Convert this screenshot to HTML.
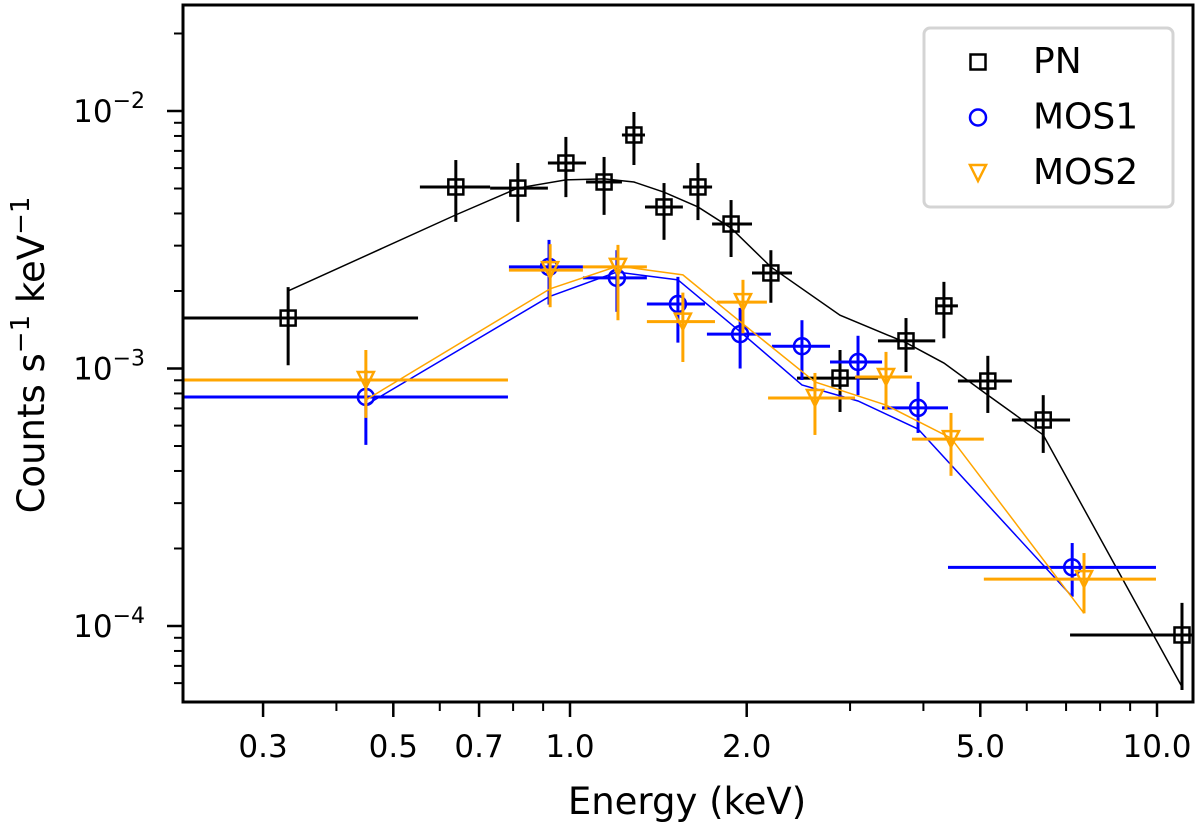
<!DOCTYPE html>
<html><head><meta charset="utf-8"><style>
body{margin:0;background:#fff}
svg{display:block;font-family:"DejaVu Sans","Liberation Sans",sans-serif}
</style></head><body>
<svg id="chart" width="1200" height="833" viewBox="0 0 1200 833" xmlns="http://www.w3.org/2000/svg">
<g id="plot"></g>
</svg>
<script>
// PN data
const pnE=[0.331,0.639,0.815,0.984,1.143,1.285,1.446,1.652,1.881,2.199,2.884,3.736,4.335,5.15,6.40,11.03];
const pnElo=[0.219,0.555,0.731,0.917,1.065,1.226,1.342,1.557,1.746,2.042,2.436,3.347,4.19,4.58,5.66,7.11];
const pnEhi=[0.551,0.731,0.917,1.065,1.226,1.342,1.557,1.746,2.042,2.389,3.347,4.19,4.58,5.66,7.11,11.6];
const pnC=[1.57e-3,5.07e-3,5.02e-3,6.28e-3,5.30e-3,8.07e-3,4.24e-3,5.07e-3,3.64e-3,2.35e-3,9.18e-4,1.28e-3,1.75e-3,8.94e-4,6.31e-4,9.23e-5];
const pnClo=[1.03e-3,3.71e-3,3.71e-3,4.63e-3,3.95e-3,6.17e-3,3.16e-3,3.77e-3,2.71e-3,1.80e-3,6.78e-4,9.69e-4,1.31e-3,6.72e-4,4.70e-4,5.64e-5];
const pnChi=[2.07e-3,6.45e-3,6.28e-3,7.93e-3,6.63e-3,9.91e-3,5.25e-3,6.28e-3,4.51e-3,2.88e-3,1.18e-3,1.57e-3,2.17e-3,1.12e-3,7.88e-4,1.23e-4];
const pnModel=[2.00e-3,3.95e-3,5.02e-3,5.40e-3,5.45e-3,5.30e-3,4.84e-3,4.24e-3,3.51e-3,2.48e-3,1.61e-3,1.26e-3,1.05e-3,7.88e-4,5.52e-4,5.80e-5];
const pnModelE=[0.331,0.639,0.815,0.984,1.143,1.285,1.446,1.652,1.881,2.199,2.884,3.736,4.335,5.15,6.40,11.03];
// MOS1 data
const m1E=[0.449,0.921,1.202,1.527,1.949,2.484,3.095,3.917,7.17];
const m1Elo=[0.219,0.787,1.052,1.352,1.711,2.208,2.773,3.401,4.405];
const m1Ehi=[0.784,1.052,1.352,1.698,2.199,2.773,3.401,4.405,9.96];
const m1C=[7.75e-4,2.48e-3,2.25e-3,1.78e-3,1.36e-3,1.22e-3,1.06e-3,7.03e-4,1.69e-4];
const m1Clo=[5.05e-4,1.77e-3,1.66e-3,1.26e-3,1.00e-3,9.02e-4,7.88e-4,5.62e-4,1.30e-4];
const m1Chi=[9.87e-4,3.16e-3,2.88e-3,2.27e-3,1.72e-3,1.54e-3,1.34e-3,8.87e-4,2.10e-4];
const m1Model=[7.21e-4,1.90e-3,2.37e-3,2.21e-3,1.39e-3,8.63e-4,7.48e-4,5.82e-4,1.30e-4];
// MOS2 data
const m2E=[0.449,0.925,1.207,1.557,1.971,2.614,3.454,4.457,7.51];
const m2Elo=[0.219,0.787,1.052,1.352,1.780,2.175,3.059,3.824,5.07];
const m2Ehi=[0.784,1.052,1.352,1.766,2.165,3.059,3.824,5.07,9.96];
const m2C=[9.02e-4,2.41e-3,2.48e-3,1.52e-3,1.81e-3,7.68e-4,9.27e-4,5.32e-4,1.52e-4];
const m2Clo=[6.43e-4,1.73e-3,1.54e-3,1.06e-3,1.37e-3,5.52e-4,6.90e-4,3.83e-4,1.12e-4];
const m2Chi=[1.18e-3,3.04e-3,3.02e-3,1.97e-3,2.21e-3,9.61e-4,1.16e-3,6.72e-4,1.92e-4];
const m2Model=[7.55e-4,2.04e-3,2.50e-3,2.31e-3,1.49e-3,8.87e-4,7.21e-4,5.37e-4,1.12e-4];
// ticks
const xTickVals=[0.3,0.5,0.7,1.0,2.0,5.0,10.0];
const xTickLabels=["0.3","0.5","0.7","1.0","2.0","5.0","10.0"];
const xMinorVals=[0.4,0.6,0.8,0.9,3,4,6,7,8,9];
const yTickVals=[1e-2,1e-3,1e-4];
const yTickExps=["−2","−3","−4"];

const X0=183,X1=1193,Y0=5,Y1=702;
function sx(e){return 570+587*Math.log10(e);}
function sy(c){return 111-257.5*(Math.log10(c)+2);}
const NS="http://www.w3.org/2000/svg";
const svg=document.getElementById('chart');
const g=document.getElementById('plot');
function mk(tag,attrs,parent){const el=document.createElementNS(NS,tag);for(const k in attrs)el.setAttribute(k,attrs[k]);(parent||svg).appendChild(el);return el;}

const defs=mk('defs',{});
const cp=mk('clipPath',{id:'clip'},defs);
mk('rect',{x:X0,y:Y0,width:X1-X0,height:Y1-Y0},cp);
g.setAttribute('clip-path','url(#clip)');

function drawSeries(name,color,E,Elo,Ehi,C,Clo,Chi,ME,M,marker){
  const line=mk('polyline',{points:ME.map((e,i)=>sx(e)+','+sy(M[i])).join(' '),fill:'none',stroke:color,'stroke-width':1.5},g);
  
  
  E.forEach((e,i)=>{
    const grp=mk('g',{},g);
    
    
    const x=sx(e),y=sy(C[i]);
    mk('line',{x1:sx(Elo[i]),x2:sx(Ehi[i]),y1:y,y2:y,stroke:color,'stroke-width':3},grp);
    mk('line',{x1:x,x2:x,y1:sy(Chi[i]),y2:sy(Clo[i]),stroke:color,'stroke-width':3},grp);
    drawMarker(marker,x,y,color,grp);
  });
}
function drawMarker(m,x,y,color,parent){
  if(m==='s') mk('rect',{x:x-7.5,y:y-7.5,width:15,height:15,fill:'none',stroke:color,'stroke-width':2.5},parent);
  else if(m==='o') mk('circle',{cx:x,cy:y,r:8,fill:'none',stroke:color,'stroke-width':2.5},parent);
  else mk('polygon',{points:(x-8)+','+(y-8)+' '+(x+8)+','+(y-8)+' '+x+','+(y+8),fill:'none',stroke:color,'stroke-width':2.5},parent);
}
drawSeries('pn','#000',pnE,pnElo,pnEhi,pnC,pnClo,pnChi,pnModelE,pnModel,'s');
drawSeries('mos1','#0000ff',m1E,m1Elo,m1Ehi,m1C,m1Clo,m1Chi,m1E,m1Model,'o');
drawSeries('mos2','#ffa500',m2E,m2Elo,m2Ehi,m2C,m2Clo,m2Chi,m2E,m2Model,'v');

const fr=mk('rect',{x:X0,y:Y0,width:X1-X0,height:Y1-Y0,fill:'none',stroke:'#000','stroke-width':3});



xTickVals.forEach((v,i)=>{
  const x=sx(v);
  const t=mk('line',{x1:x,x2:x,y1:Y1,y2:Y1+15,stroke:'#000','stroke-width':2.5});
  
  
  const l=mk('text',{x:x,y:Y1+55,'text-anchor':'middle','font-size':31,fill:'#000'});
  l.textContent=xTickLabels[i];
  
  
});
xMinorVals.forEach(v=>{
  const x=sx(v);
  const t=mk('line',{x1:x,x2:x,y1:Y1,y2:Y1+9,stroke:'#000','stroke-width':2});
  
  
});
yTickVals.forEach((v,i)=>{
  const y=sy(v);
  const t=mk('line',{x1:X0-16,x2:X0,y1:y,y2:y,stroke:'#000','stroke-width':2.5});
  
  
  const l=mk('text',{x:X0-38,y:y+11,'text-anchor':'end','font-size':31,fill:'#000'});
  
  
  l.innerHTML='10<tspan dy="-14" font-size="22">'+yTickExps[i]+'</tspan>';
});
for(let d=-5;d<=-2;d++){for(let k=2;k<=9;k++){
  const v=k*Math.pow(10,d);const y=sy(v);
  if(y<Y0||y>Y1)continue;
  const t=mk('line',{x1:X0-9,x2:X0,y1:y,y2:y,stroke:'#000','stroke-width':2});
  
  
}}
const xl=mk('text',{x:687,y:814,'text-anchor':'middle','font-size':37,fill:'#000'});
xl.textContent='Energy (keV)';


const yl=mk('text',{x:0,y:0,'text-anchor':'middle','font-size':37,fill:'#000',transform:'translate(44,355) rotate(-90)'});
yl.innerHTML='Counts s<tspan dy="-15" font-size="26">−1</tspan><tspan dy="15"> keV</tspan><tspan dy="-15" font-size="26">−1</tspan>';



const lg=mk('g',{});


mk('rect',{x:924,y:28,width:249,height:179,rx:6,fill:'#fff','fill-opacity':0.8,stroke:'#d4d4d4','stroke-width':3},lg);
const legNames=['PN','MOS1','MOS2'],legColors=['#000','#0000ff','#ffa500'],legM=['s','o','v'];
legNames.forEach((n,i)=>{
  const eg=mk('g',{},lg);
  
  
  const y=62+i*55.5;
  drawMarker(legM[i],978,y,legColors[i],eg);
  const t=mk('text',{x:1033,y:y+11,'font-size':36,fill:'#000'},eg);
  t.textContent=n;
});
</script>
</body></html>
